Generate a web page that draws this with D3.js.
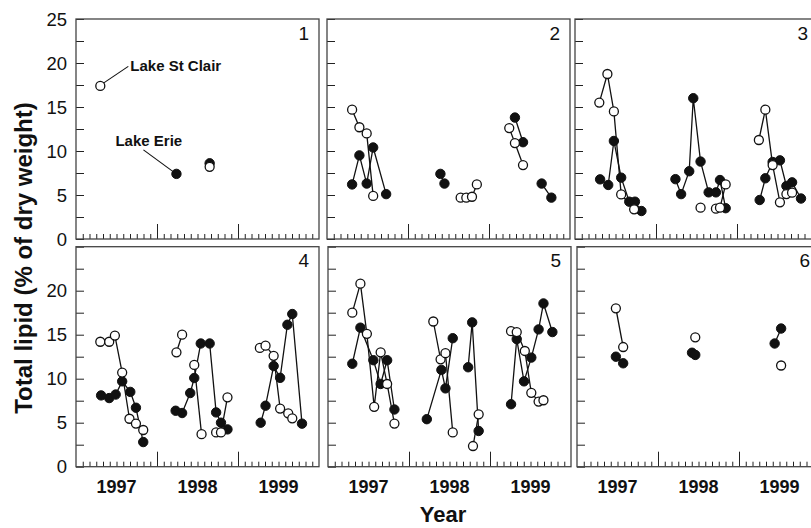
<!DOCTYPE html>
<html>
<head>
<meta charset="utf-8">
<script src="https://cdn.jsdelivr.net/npm/d3@7"></script>
<style>
  body { margin: 0; background: #fff; }
  svg { display: block; font-family: "Liberation Sans", Arial, Helvetica, sans-serif; }
</style>
</head>
<body>
<svg id="chart" width="811" height="528"></svg>
<script>
// values: [decimal year, total lipid %], grouped in connected runs
const years = [1997, 1998, 1999];
const yLabelTicks = [0, 5, 10, 15, 20, 25];

const p1StClair = [[[1997.30, 17.4]], [[1998.65, 8.2]]];
const p1Erie = [[[1998.24, 7.4]], [[1998.65, 8.6]]];

const p2StClair = [
    [[1997.31, 14.7], [1997.40, 12.7], [1997.49, 12.0], [1997.57, 4.9]],
    [[1998.65, 4.7], [1998.72, 4.7], [1998.79, 4.8], [1998.85, 6.2]],
    [[1999.25, 12.6], [1999.32, 10.9], [1999.42, 8.4]]
];
const p2Erie = [
    [[1997.31, 6.2], [1997.40, 9.5], [1997.49, 6.3], [1997.57, 10.4], [1997.73, 5.1]],
    [[1998.40, 7.4], [1998.45, 6.3]],
    [[1999.32, 13.8], [1999.42, 11.0]],
    [[1999.65, 6.3], [1999.77, 4.7]]
];

const p3StClair = [
    [[1997.30, 15.5], [1997.40, 18.75], [1997.48, 14.5], [1997.57, 5.07], [1997.73, 3.37]],
    [[1998.55, 3.56]],
    [[1998.74, 3.45], [1998.79, 3.56], [1998.86, 6.2]],
    [[1999.27, 11.25], [1999.35, 14.7], [1999.44, 8.4], [1999.53, 4.17], [1999.61, 5.11], [1999.68, 5.26]]
];
const p3Erie = [
    [[1997.31, 6.78], [1997.41, 6.14], [1997.48, 11.14], [1997.57, 6.97], [1997.67, 4.24], [1997.74, 4.24], [1997.82, 3.18]],
    [[1998.24, 6.8], [1998.31, 5.1], [1998.41, 7.7], [1998.46, 16.0], [1998.55, 8.8], [1998.65, 5.3], [1998.74, 5.3], [1998.79, 6.7], [1998.86, 3.5]],
    [[1999.28, 4.43], [1999.35, 6.9], [1999.44, 8.75], [1999.53, 8.94], [1999.61, 6.02], [1999.68, 6.44], [1999.79, 4.6]]
];

const p4StClair = [
    [[1997.30, 14.2], [1997.41, 14.2], [1997.48, 14.9], [1997.57, 10.7], [1997.66, 5.45], [1997.74, 4.9], [1997.83, 4.17]],
    [[1998.24, 13.0], [1998.31, 15.0]],
    [[1998.46, 11.56], [1998.55, 3.7]],
    [[1998.73, 3.9], [1998.79, 3.9], [1998.87, 7.88]],
    [[1999.27, 13.5], [1999.34, 13.75], [1999.44, 12.6], [1999.52, 6.6], [1999.62, 6.06], [1999.67, 5.5]]
];
const p4Erie = [
    [[1997.31, 8.1], [1997.41, 7.8], [1997.49, 8.2], [1997.57, 9.7], [1997.67, 8.5], [1997.74, 6.7], [1997.83, 2.8]],
    [[1998.23, 6.36], [1998.31, 6.1], [1998.41, 8.37], [1998.46, 10.08], [1998.54, 14.0], [1998.65, 14.0], [1998.73, 6.17], [1998.79, 5.0], [1998.87, 4.24]],
    [[1999.28, 5.0], [1999.34, 6.93], [1999.44, 11.44], [1999.52, 10.1], [1999.61, 16.13], [1999.67, 17.35], [1999.79, 4.89]]
];

const p5StClair = [
    [[1997.30, 17.5], [1997.40, 20.8], [1997.48, 15.1], [1997.57, 6.8], [1997.65, 13.0], [1997.73, 9.4], [1997.82, 4.9]],
    [[1998.30, 16.5], [1998.39, 12.2], [1998.45, 12.9], [1998.54, 3.9]],
    [[1998.79, 2.35], [1998.86, 5.95]],
    [[1999.26, 15.4], [1999.33, 15.3], [1999.43, 13.15], [1999.51, 8.4], [1999.60, 7.4], [1999.66, 7.55]]
];
const p5Erie = [
    [[1997.30, 11.7], [1997.40, 15.8], [1997.56, 12.1], [1997.65, 9.4], [1997.73, 12.1], [1997.82, 6.5]],
    [[1998.22, 5.4], [1998.40, 11.0], [1998.45, 8.9], [1998.54, 14.6]],
    [[1998.73, 11.3], [1998.78, 16.4], [1998.86, 4.06]],
    [[1999.26, 7.1], [1999.33, 14.5], [1999.42, 9.7], [1999.51, 12.4], [1999.60, 15.6], [1999.66, 18.55], [1999.77, 15.3]]
];

const p6StClair = [
    [[1997.48, 18.0], [1997.57, 13.6]],
    [[1998.46, 14.7]],
    [[1999.52, 11.5]]
];
const p6Erie = [
    [[1997.48, 12.5], [1997.57, 11.75]],
    [[1998.42, 12.95], [1998.46, 12.7]],
    [[1999.44, 14.0], [1999.52, 15.7]]
];

const panels = [
    {label: '1', row: 0, col: 0, stClair: p1StClair, erie: p1Erie},
    {label: '2', row: 0, col: 1, stClair: p2StClair, erie: p2Erie},
    {label: '3', row: 0, col: 2, stClair: p3StClair, erie: p3Erie},
    {label: '4', row: 1, col: 0, stClair: p4StClair, erie: p4Erie},
    {label: '5', row: 1, col: 1, stClair: p5StClair, erie: p5Erie},
    {label: '6', row: 1, col: 2, stClair: p6StClair, erie: p6Erie}
];

// layout
const lefts = [[76, 327, 575], [76, 328, 577]];
const tops = [19, 246.7];
const pw = 243, ph = 220;
const font = '"Liberation Sans", Arial, Helvetica, sans-serif';

let svg = d3.select('#chart');

panels.forEach(function (p) {
    let x0 = lefts[p.row][p.col];
    let y0 = tops[p.row];

    let xScale = d3.scaleLinear().domain([1997, 2000]).range([x0, x0 + pw]);
    let yScale = d3.scaleLinear().domain([0, 25]).range([y0 + ph, y0]);

    let g = svg.append('g');

    // y ticks every 2.5, inside
    let yAxis = d3.axisLeft(yScale)
        .tickValues(d3.range(0, 25.01, 2.5))
        .tickSize(-8)
        .tickFormat('');
    g.append('g')
        .attr('transform', 'translate(' + x0 + ',0)')
        .call(yAxis)
        .call(s => s.select('.domain').remove())
        .selectAll('line').attr('stroke', '#222');

    // monthly minor ticks + yearly major ticks
    let months = d3.range(1, 36).map(m => 1997 + m / 12).filter(v => Math.abs(v - Math.round(v)) > 1e-6);
    g.append('g')
        .attr('transform', 'translate(0,' + (y0 + ph) + ')')
        .call(d3.axisBottom(xScale).tickValues(months).tickSize(-5).tickFormat(''))
        .call(s => s.select('.domain').remove())
        .selectAll('line').attr('stroke', '#222');
    g.append('g')
        .attr('transform', 'translate(0,' + (y0 + ph) + ')')
        .call(d3.axisBottom(xScale).tickValues([1998, 1999]).tickSize(-15).tickFormat(''))
        .call(s => s.select('.domain').remove())
        .selectAll('line').attr('stroke', '#222');

    // frame
    g.append('rect')
        .attr('x', x0).attr('y', y0)
        .attr('width', pw).attr('height', ph)
        .attr('fill', 'none')
        .attr('stroke', '#444')
        .attr('stroke-width', 1.3);

    // panel number
    g.append('text')
        .attr('x', x0 + pw - 10)
        .attr('y', y0 + 20.5)
        .attr('text-anchor', 'end')
        .style('font-family', font)
        .style('font-size', '19px')
        .attr('fill', '#111')
        .text(p.label);

    // y labels on left column
    if (p.col === 0) {
        let labs = p.row === 0 ? yLabelTicks : yLabelTicks.filter(v => v < 25);
        g.selectAll('.ylab')
            .data(labs)
            .enter()
            .append('text')
            .attr('x', x0 - 9)
            .attr('y', d => yScale(d) + 6.5)
            .attr('text-anchor', 'end')
            .style('font-family', font)
            .style('font-size', '18.5px')
            .attr('fill', '#111')
            .text(d => d);
    }

    // year labels on bottom row
    if (p.row === 1) {
        g.selectAll('.year')
            .data(years)
            .enter()
            .append('text')
            .attr('x', d => xScale(d + 0.5))
            .attr('y', y0 + ph + 26.5)
            .attr('text-anchor', 'middle')
            .style('font-family', font)
            .style('font-size', '18px')
            .style('font-weight', 'bold')
            .attr('fill', '#111')
            .text(d => d);
    }

    let line = d3.line()
        .x(d => xScale(d[0]))
        .y(d => yScale(d[1]));

    let allSegs = p.erie.concat(p.stClair);
    g.selectAll('.seg')
        .data(allSegs.filter(s => s.length > 1))
        .enter()
        .append('path')
        .attr('d', line)
        .attr('fill', 'none')
        .attr('stroke', '#111')
        .attr('stroke-width', 1.3);

    g.selectAll('.erie')
        .data(p.erie.flat())
        .enter()
        .append('circle')
        .attr('cx', d => xScale(d[0]))
        .attr('cy', d => yScale(d[1]))
        .attr('r', 4.7)
        .attr('fill', '#111')
        .attr('stroke', '#111')
        .attr('stroke-width', 1);

    g.selectAll('.stclair')
        .data(p.stClair.flat())
        .enter()
        .append('circle')
        .attr('cx', d => xScale(d[0]))
        .attr('cy', d => yScale(d[1]))
        .attr('r', 4.5)
        .attr('fill', '#fff')
        .attr('stroke', '#111')
        .attr('stroke-width', 1.3);

    // legend annotations in panel 1
    if (p.label === '1') {
        let sc = p.stClair[0][0];
        let er = p.erie[0][0];
        g.append('line')
            .attr('x1', xScale(sc[0]) + 3.5).attr('y1', yScale(sc[1]) - 3)
            .attr('x2', xScale(sc[0]) + 28).attr('y2', yScale(sc[1]) - 19.5)
            .attr('stroke', '#111').attr('stroke-width', 1.1);
        g.append('text')
            .attr('x', xScale(sc[0]) + 30)
            .attr('y', yScale(sc[1]) - 15)
            .style('font-family', font)
            .style('font-size', '15px')
            .style('font-weight', 'bold')
            .attr('fill', '#111')
            .text('Lake St Clair');
        g.append('line')
            .attr('x1', xScale(er[0]) - 3).attr('y1', yScale(er[1]) - 2)
            .attr('x2', xScale(er[0]) - 33).attr('y2', yScale(er[1]) - 24)
            .attr('stroke', '#111').attr('stroke-width', 1.1);
        g.append('text')
            .attr('x', xScale(er[0]) - 61)
            .attr('y', yScale(er[1]) - 28)
            .style('font-family', font)
            .style('font-size', '15px')
            .style('font-weight', 'bold')
            .attr('fill', '#111')
            .text('Lake Erie');
    }
});

// axis titles
svg.append('text')
    .attr('transform', 'translate(32,258) rotate(-90)')
    .attr('text-anchor', 'middle')
    .style('font-family', font)
    .style('font-size', '24px')
    .style('font-weight', 'bold')
    .attr('fill', '#111')
    .text('Total lipid (% of dry weight)');

svg.append('text')
    .attr('x', 443)
    .attr('y', 522)
    .attr('text-anchor', 'middle')
    .style('font-family', font)
    .style('font-size', '22px')
    .style('font-weight', 'bold')
    .attr('fill', '#111')
    .text('Year');
</script>
</body>
</html>
